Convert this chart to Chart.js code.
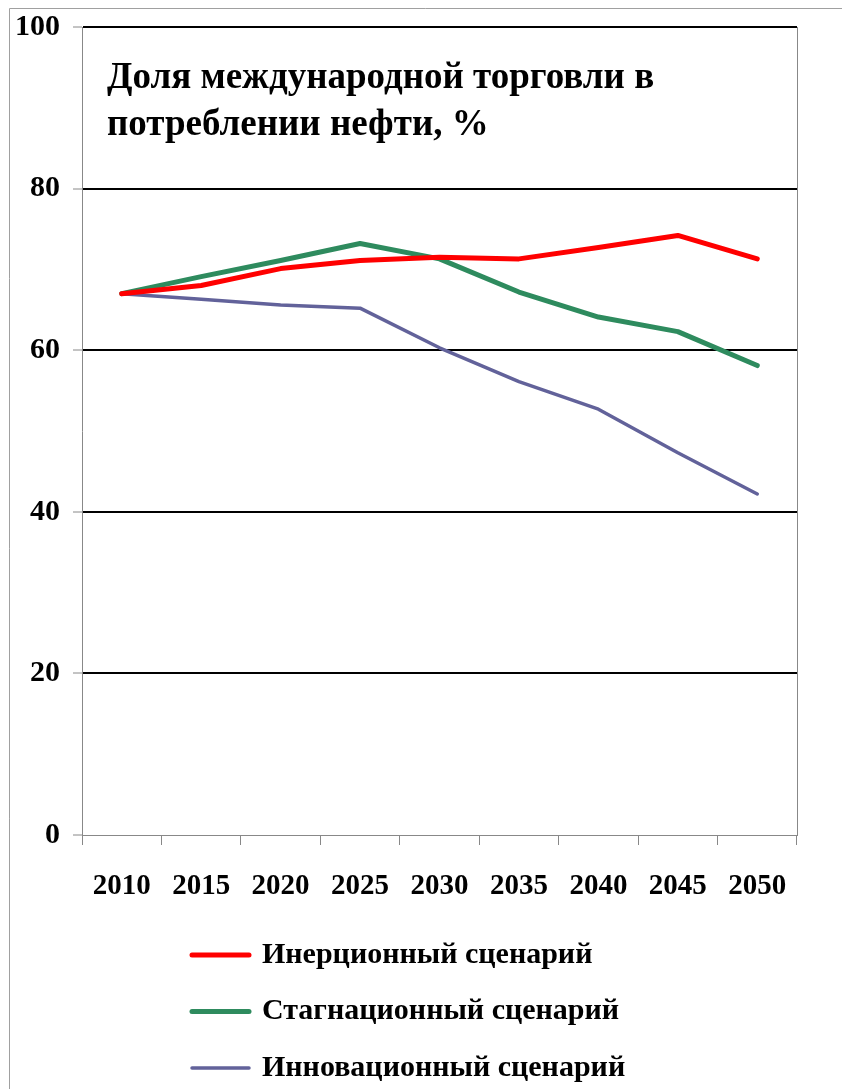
<!DOCTYPE html>
<html>
<head>
<meta charset="utf-8">
<script src="https://cdn.jsdelivr.net/npm/chart.js@4.4.0/dist/chart.umd.min.js"></script>
<style>
  html, body { margin: 0; padding: 0; background: #fff; }
  #wrap { width: 842px; height: 1089px; position: relative; }
</style>
</head>
<body>
<div id="wrap"><canvas id="chartTorgovlya" width="842" height="1089"></canvas></div>
<script>
const years = ['2010', '2015', '2020', '2025', '2030', '2035', '2040', '2045', '2050']
const inertsionny = [67, 68, 70.1, 71.1, 71.5, 71.3, 72.7, 74.2, 71.3]
const stagnatsionny = [67, 69.1, 71.1, 73.2, 71.3, 67.2, 64.1, 62.3, 58.1]
const innovatsionny = [67, 66.3, 65.6, 65.2, 60.3, 56.1, 52.7, 47.3, 42.2]
const seriesNames = ['Инерционный сценарий', 'Стагнационный сценарий', 'Инновационный сценарий']
const titleLines = ['Доля международной торговли в', 'потреблении нефти, %']

const serif = '"Liberation Serif", "Times New Roman", serif'

// рамка, заголовок, правая граница и легенда
const extras = {
  id: 'extras',
  beforeDraw(chart) {
    const c = chart.ctx
    c.save()
    c.strokeStyle = '#a0a0a0'
    c.lineWidth = 1
    c.beginPath()
    c.moveTo(9.5, chart.height)
    c.lineTo(9.5, 8.5)
    c.lineTo(chart.width, 8.5)
    c.stroke()
    c.restore()
  },
  afterDraw(chart) {
    const c = chart.ctx
    const a = chart.chartArea
    c.save()
    c.strokeStyle = '#888'
    c.lineWidth = 1
    c.beginPath()
    c.moveTo(Math.round(a.right) + 0.5, a.top)
    c.lineTo(Math.round(a.right) + 0.5, a.bottom)
    c.stroke()

    c.fillStyle = '#000'
    c.font = 'bold 37px ' + serif
    c.textBaseline = 'middle'
    c.textAlign = 'left'
    titleLines.forEach((t, i) => c.fillText(t, a.left + 25, a.top + 51 + i * 47))

    c.font = 'bold 30px ' + serif
    chart.data.datasets.forEach((ds, i) => {
      const y = 955 + i * 56.5
      c.strokeStyle = ds.borderColor
      c.lineWidth = ds.borderWidth
      c.lineCap = 'round'
      c.beginPath()
      c.moveTo(192, y)
      c.lineTo(249, y)
      c.stroke()
      c.fillText(ds.label, 262, y)
    })
    c.restore()
  }
}

const ctx = document.getElementById('chartTorgovlya').getContext('2d')
new Chart(ctx, {
  type: 'line',
  data: {
    labels: years,
    datasets: [
      { label: seriesNames[0], data: inertsionny, borderColor: '#ff0000', borderWidth: 5 },
      { label: seriesNames[1], data: stagnatsionny, borderColor: '#2e8b5e', borderWidth: 5 },
      { label: seriesNames[2], data: innovatsionny, borderColor: '#62629a', borderWidth: 3.5 }
    ]
  },
  options: {
    responsive: false,
    animation: false,
    layout: { padding: { top: 27, right: 45, bottom: 188, left: 0 } },
    elements: {
      point: { radius: 0 },
      line: { tension: 0, borderJoinStyle: 'round', borderCapStyle: 'round' }
    },
    plugins: {
      legend: { display: false },
      tooltip: { enabled: false }
    },
    scales: {
      x: {
        offset: true,
        afterFit(scale) { scale.height = 66 },
        grid: { offset: true, drawOnChartArea: false, tickLength: 10, tickColor: '#888', lineWidth: 1 },
        border: { color: '#888', width: 1 },
        ticks: {
          color: '#000',
          padding: 24,
          maxRotation: 0,
          font: { family: serif, size: 29, weight: 'bold' }
        }
      },
      y: {
        min: 0,
        max: 100,
        afterFit(scale) {
          scale.width = 82
          scale.paddingTop = 0
          scale.paddingBottom = 0
        },
        grid: {
          color: (c) => c.tick && c.tick.value === 0 ? 'rgba(0,0,0,0)' : '#000',
          lineWidth: 2,
          tickLength: 9,
          tickColor: '#888',
          tickWidth: 1
        },
        border: { color: '#888', width: 1 },
        ticks: {
          stepSize: 20,
          color: '#000',
          padding: 13,
          font: { family: serif, size: 30, weight: 'bold' }
        }
      }
    }
  },
  plugins: [extras]
})
</script>
</body>
</html>
